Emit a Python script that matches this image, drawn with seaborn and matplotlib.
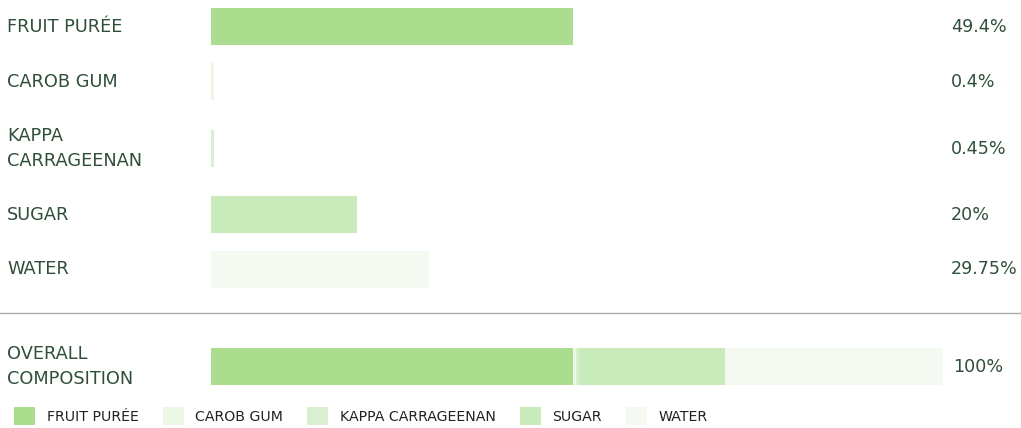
import pandas as pd
import matplotlib.pyplot as plt
import seaborn as sns
import numpy as np
from matplotlib.lines import Line2D
from matplotlib.patches import Patch
from matplotlib.transforms import blended_transform_factory

ingredients = ['FRUIT PURÉE', 'CAROB GUM', 'KAPPA CARRAGEENAN', 'SUGAR', 'WATER']
row_labels = ['FRUIT PURÉE', 'CAROB GUM', 'KAPPA\nCARRAGEENAN', 'SUGAR', 'WATER']
shares = [49.4, 0.4, 0.45, 20, 29.75]
share_labels = ['49.4%', '0.4%', '0.45%', '20%', '29.75%']
total_label = '100%'
overall_label = 'OVERALL\nCOMPOSITION'
colors = ['#aade8e', '#ecf7e6', '#d9f0d0', '#c9ebbc', '#f4f9f1']

# row centres in pixel units (layout only)
row_y = [26.5, 81.5, 148.5, 214.5, 269.5]
overall_y = 366.5
bar_h = 37

text_col = '#2f4f3a'

sns.set_theme(style='white')
plt.rcParams['font.family'] = ['DejaVu Sans']

fig = plt.figure(figsize=(10.21, 4.28), dpi=100)
ax = fig.add_axes([211 / 1021, 0, 732 / 1021, 1])

df = pd.DataFrame({'ingredient': ingredients, 'share': shares, 'y': row_y})
sns.barplot(data=df, x='share', y='y', hue='ingredient', palette=colors,
            orient='h', native_scale=True, dodge=False, legend=False,
            width=bar_h / 55, linewidth=0, saturation=1, ax=ax)

# stacked overall bar
lefts = np.concatenate([[0], np.cumsum(shares)[:-1]])
ax.barh([overall_y] * len(shares), shares, left=lefts, height=bar_h,
        color=colors, linewidth=0)

ax.set_xlim(0, 100)
ax.set_ylim(428, 0)
ax.axis('off')

tr = blended_transform_factory(fig.transFigure, ax.transData)
for lab, val, y in zip(row_labels, share_labels, row_y):
    ax.text(7 / 1021, y, lab, transform=tr, ha='left', va='center',
            fontsize=12.8, color=text_col, linespacing=1.45)
    ax.text(951 / 1021, y, val, transform=tr, ha='left', va='center',
            fontsize=12.6, color=text_col)
ax.text(7 / 1021, overall_y, overall_label, transform=tr, ha='left', va='center',
        fontsize=12.8, color=text_col, linespacing=1.45)
ax.text(953 / 1021, overall_y, total_label, transform=tr, ha='left', va='center',
        fontsize=12.6, color=text_col)

fig.add_artist(Line2D([0, 1], [1 - 313 / 428, 1 - 313 / 428],
                      transform=fig.transFigure, color='#aaaaaa', lw=1))

handles = [Patch(facecolor=c, edgecolor='none') for c in colors]
fig.legend(handles, ingredients, loc='center left', ncol=5,
           bbox_to_anchor=(14 / 1021, 1 - 416 / 428), frameon=False,
           borderpad=0, borderaxespad=0, fontsize=10.2,
           handlelength=1.5, handleheight=1.5, handletextpad=0.8,
           columnspacing=1.7, labelcolor='#222222')

fig.savefig('out.png', dpi=100)
